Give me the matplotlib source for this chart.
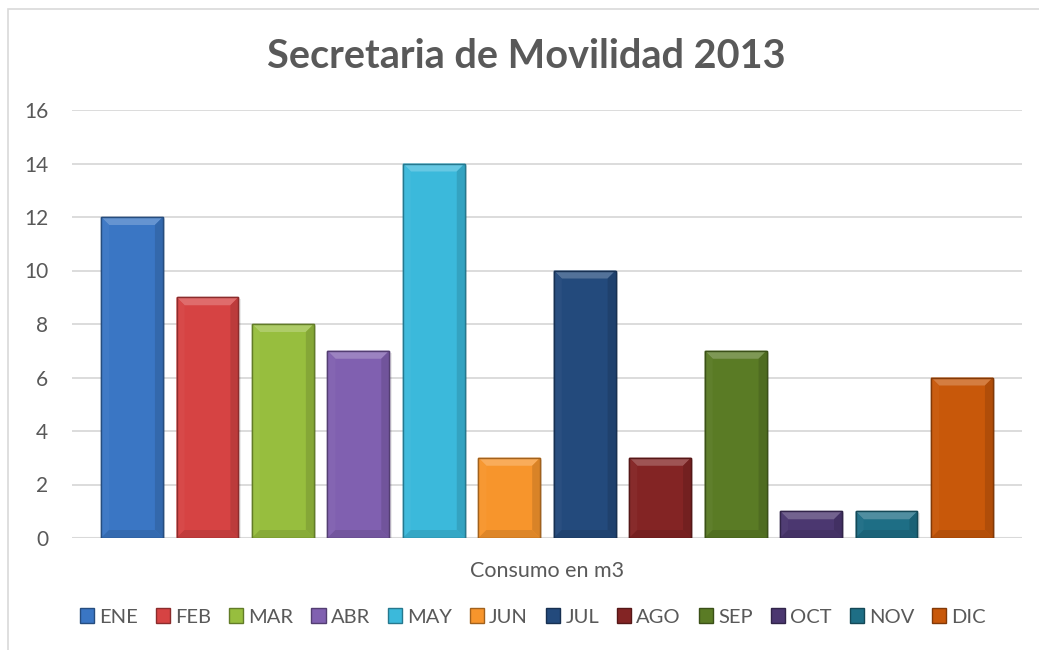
import matplotlib
matplotlib.use("Agg")
import matplotlib.pyplot as plt
from matplotlib.patches import Polygon, Rectangle, Patch
from matplotlib.colors import to_rgb
import numpy as np

months = ["ENE", "FEB", "MAR", "ABR", "MAY", "JUN", "JUL", "AGO", "SEP", "OCT", "NOV", "DIC"]
values = [12, 9, 8, 7, 14, 3, 10, 3, 7, 1, 1, 6]
colors = ["#3A76C4", "#D64343", "#97BE3E", "#8060B0", "#3BB9DB", "#F7952C",
          "#234A7C", "#832424", "#5A7B25", "#4B3770", "#1E6E85", "#C8580A"]
title = "Secretaria de Movilidad 2013"
xlabel = "Consumo en m3"
yticks = [0, 2, 4, 6, 8, 10, 12, 14, 16]

plt.rcParams['font.family'] = ['Lato', 'DejaVu Sans']
TXT = "#595959"

W, H = 1039, 650
fig = plt.figure(figsize=(W / 100, H / 100), dpi=100)

# chart border
fig.patches.append(Rectangle((8 / W, -0.1), 1.5, (H - 9) / H + 0.1, transform=fig.transFigure,
                             fill=False, edgecolor="#D9D9D9", linewidth=1.2))

left, right, top, bottom = 72, 1022, 110, 538
ax = fig.add_axes([left / W, (H - bottom) / H, (right - left) / W, (bottom - top) / H])

x = np.arange(len(months))
bw = 0.82
ax.set_xlim(-0.795, len(months) - 1 + 0.795)
ax.set_ylim(0, 16)

px_x = (right - left) / (ax.get_xlim()[1] - ax.get_xlim()[0])
px_y = (bottom - top) / 16.0
b = 8
dx, dy = b / px_x, b / px_y


def shade(c, f):
    r = np.array(to_rgb(c))
    if f >= 0:
        return tuple(r + (1 - r) * f)
    return tuple(r * (1 + f))


ax.bar(x, values, width=bw, color=colors, zorder=3,
       edgecolor=[shade(c, -0.35) for c in colors], linewidth=1.0)

for xi, v, c in zip(x, values, colors):
    x0, x1 = xi - bw / 2, xi + bw / 2
    ddy = min(dy, v / 2)
    # shadow
    ax.add_patch(Rectangle((x0 + 0.03, -0.08), bw, v, facecolor="#000000", alpha=0.08,
                           zorder=2, linewidth=0))
    ax.add_patch(Polygon([(x0, v), (x1, v), (x1 - dx, v - ddy), (x0 + dx, v - ddy)],
                         closed=True, facecolor=shade(c, 0.22), edgecolor="none", zorder=4))
    ax.add_patch(Polygon([(x0, 0), (x0, v), (x0 + dx, v - ddy), (x0 + dx, ddy)],
                         closed=True, facecolor=shade(c, 0.03), edgecolor="none", zorder=4))
    ax.add_patch(Polygon([(x1, 0), (x1, v), (x1 - dx, v - ddy), (x1 - dx, ddy)],
                         closed=True, facecolor=shade(c, -0.12), edgecolor="none", zorder=4))
    ax.add_patch(Polygon([(x0, 0), (x1, 0), (x1 - dx, ddy), (x0 + dx, ddy)],
                         closed=True, facecolor=shade(c, -0.10), edgecolor="none", zorder=4))
    ax.add_patch(Rectangle((x0, 0), bw, v, fill=False, edgecolor=shade(c, -0.35),
                           linewidth=1.0, zorder=5))

ax.set_yticks(yticks)
ax.set_yticklabels([str(t) for t in yticks], color=TXT, fontsize=15)
ax.set_xticks([])
ax.tick_params(axis="y", length=0, pad=17)
ax.yaxis.grid(True, color="#D9D9D9", linewidth=1.3, zorder=0)
for s in ax.spines.values():
    s.set_visible(False)
ax.axhline(0, color="#D9D9D9", linewidth=1.5, zorder=1)

fig.text(0.5 * (left + right) / W, 1 - 571 / H, xlabel, ha="center", va="center",
         color=TXT, fontsize=15.5)
fig.text(526 / W, 1 - 57 / H, title, ha="center", va="center",
         color=TXT, fontsize=28.5, fontweight="bold")

handles = [Patch(facecolor=c, edgecolor=shade(c, -0.35), label=m) for m, c in zip(months, colors)]
fig.legend(handles=handles, loc="center", bbox_to_anchor=(533 / W, 1 - 617 / H),
           ncol=12, frameon=False, fontsize=14.5, handlelength=0.7, handleheight=0.7,
           handletextpad=0.25, columnspacing=0.9, labelcolor=TXT)

fig.savefig("out.png", dpi=100)
